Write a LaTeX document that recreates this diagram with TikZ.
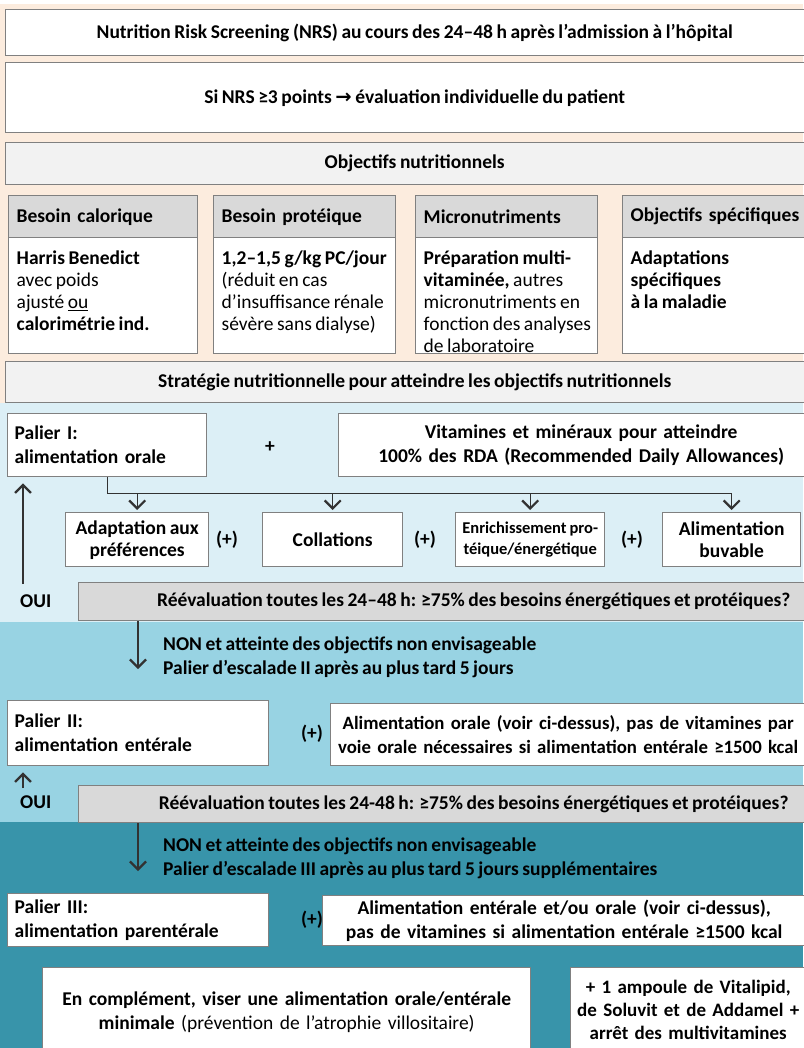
\documentclass[tikz,border=0pt]{standalone}
\usepackage{fontspec}
\setmainfont{Carlito}[WordSpace=0.8]
\newfontfamily\symfont{DejaVu Sans}
\usetikzlibrary{arrows.meta}

\definecolor{peche}{RGB}{252,236,222}
\definecolor{bleuclair}{RGB}{220,239,246}
\definecolor{bleumoyen}{RGB}{152,211,227}
\definecolor{bleufonce}{RGB}{56,148,170}
\definecolor{bord}{RGB}{128,128,128}
\definecolor{grisclair}{RGB}{242,242,242}
\definecolor{grismoyen}{RGB}{217,217,217}
\definecolor{trait}{RGB}{50,50,50}

\newcommand{\topcell}[2]{\parbox[c][92pt][t]{#1}{\begin{tabular}{@{}l@{}}#2\end{tabular}}}

\tikzset{
    box/.style={draw=bord, line width=1.4pt, fill=white, inner sep=0pt,
        anchor=north west, font=\bfseries\fontsize{19.5}{24}\selectfont},
    panel/.style={box, fill=grisclair},
    entete/.style={box, fill=grismoyen, minimum height=42pt, align=left},
    corps/.style={box, minimum height=116pt, font=\fontsize{19.5}{21.8}\selectfont},
    choix/.style={box, minimum height=54pt, align=center, font=\bfseries\fontsize{19.5}{22}\selectfont},
    lbl/.style={inner sep=0pt, font=\bfseries\fontsize{19.5}{24}\selectfont},
    conn/.style={draw=trait, line width=1.4pt},
    arr/.style={conn, -{Straight Barb[length=8pt,width=16pt,line width=2.2pt]}},
}

\begin{document}
\begin{tikzpicture}[x=1pt,y=-1pt]
        \useasboundingbox (0,0) rectangle (803,1048);
        %% bands
        \fill[peche] (0,4) rectangle (803,403);
        \fill[bleuclair] (0,403) rectangle (803,622);
        \fill[bleumoyen] (0,622) rectangle (803,822);
        \fill[bleufonce] (0,822) rectangle (803,1048);
        %% screening
        \node[box, minimum width=818pt, minimum height=46pt] (nrs) at (5,9)
            {Nutrition Risk Screening (NRS) au cours des 24–48 h après l’admission à l’hôpital};
        \node[box, minimum width=818pt, minimum height=70pt] (seuil) at (5,62)
            {Si NRS ≥3 points {\symfont\bfseries →} évaluation individuelle du patient};
        \node[panel, minimum width=818pt, minimum height=42pt] (objectifs) at (5,142) {Objectifs nutritionnels};
        %% objectives
        \node[entete, minimum width=189pt, text width=173pt] (calh) at (8,195) {Besoin calorique};
        \node[entete, minimum width=182pt, text width=166pt] (proh) at (213,195) {Besoin protéique};
        \node[entete, minimum width=182pt, text width=166pt] (mich) at (415,195) {Micronutriments};
        \node[entete, minimum width=200pt, text width=184pt] (spch) at (622,195) {Objectifs spécifiques};
        \node[corps, minimum width=189pt] (calb) at (8,237) {\topcell{173pt}{\textbf{Harris Benedict}\\ avec poids\\ ajusté \underline{ou}\\ \textbf{calorimétrie ind.}}};
        \node[corps, minimum width=182pt] (prob) at (213,237) {\topcell{166pt}{\textbf{1,2–1,5 g/kg PC/jour}\\ (réduit en cas\\ d’insuffisance rénale\\ sévère sans dialyse)}};
        \node[corps, minimum width=182pt] (micb) at (415,237) {\topcell{166pt}{\textbf{Préparation multi-}\\ \textbf{vitaminée,} autres\\ micronutriments en\\ fonction des analyses\\ de laboratoire}};
        \node[corps, minimum width=200pt] (spcb) at (622,237) {\topcell{184pt}{\textbf{Adaptations}\\ \textbf{spécifiques}\\ \textbf{à la maladie}}};
        \node[panel, minimum width=818pt, minimum height=41pt] (strategie) at (5,361)
            {Stratégie nutritionnelle pour atteindre les objectifs nutritionnels};
        %% palier I
        \node[box, minimum width=199pt, minimum height=63pt, text width=185pt, align=left] (palier1) at (7,413)
            {Palier I:\\ alimentation orale};
        \node[lbl] (plus) at (270,447) {+};
        \node[box, minimum width=485pt, minimum height=63pt, text width=470pt, align=center] (vitamines) at (338,413)
            {Vitamines et minéraux pour atteindre\\ 100\% des RDA (Recommended Daily Allowances)};
        \node[choix, minimum width=143pt] (adapt) at (65,512) {Adaptation aux\\ préférences};
        \node[choix, minimum width=140pt] (coll) at (262,512) {Collations};
        \node[choix, minimum width=149pt, font=\bfseries\fontsize{16.5}{21}\selectfont] (enrich) at (455,512)
            {Enrichissement pro-\\ téique/énergétique};
        \node[choix, minimum width=138pt] (buv) at (662,512) {Alimentation\\ buvable};
        \foreach \x/\n in {227/p1,425/p2,632/p3}
            \node[lbl] (\n) at (\x,540) {(+)};
        \path (palier1.south) ++(0,16) coordinate (split);
        \draw[conn] (palier1.south) -- (split) -- (split -| buv.north);
        \foreach \n in {adapt,coll,enrich,buv}
            \draw[arr] (split -| \n.north) -- ([yshift=2pt]\n.north);
        %% reevaluation I
        \node[lbl, anchor=west] (oui1) at (20,601) {OUI};
        \node[box, fill=grismoyen, minimum width=790pt, minimum height=38pt] (reeval1) at (78,582)
            {Réévaluation toutes les 24–48 h: ≥75\% des besoins énergétiques et protéiques?};
        \coordinate (retour1) at (23,584);
        \draw[arr] (retour1) -- ([yshift=-6pt]retour1 |- palier1.south);
        \node[lbl, anchor=west, align=left] (non1) at (163,657)
            {NON et atteinte des objectifs non envisageable\\ Palier d’escalade II après au plus tard 5 jours};
        \coordinate (descente1) at (138,669);
        \draw[arr] (reeval1.south -| descente1) -- (descente1);
        %% palier II
        \node[box, minimum width=261pt, minimum height=65pt, text width=247pt, align=left] (palier2) at (7,700)
            {Palier II:\\ alimentation entérale};
        \node[lbl] (p4) at (312,734) {(+)};
        \node[box, minimum width=475pt, minimum height=62pt, text width=470pt, align=center,
            font=\bfseries\fontsize{18.8}{24}\selectfont] (orale) at (330,703)
            {Alimentation orale (voir ci-dessus), pas de vitamines par\\ voie orale nécessaires si alimentation entérale ≥1500 kcal};
        %% reevaluation II
        \node[lbl, anchor=west] (oui2) at (20,802) {OUI};
        \node[box, fill=grismoyen, minimum width=790pt, minimum height=37pt] (reeval2) at (78,785)
            {Réévaluation toutes les 24-48 h: ≥75\% des besoins énergétiques et protéiques?};
        \coordinate (retour2) at (23,788);
        \draw[arr] (retour2) -- ([yshift=-6pt]retour2 |- palier2.south);
        \node[lbl, anchor=west, align=left] (non2) at (163,858)
            {NON et atteinte des objectifs non envisageable\\ Palier d’escalade III après au plus tard 5 jours supplémentaires};
        \coordinate (descente2) at (138,871);
        \draw[arr] (reeval2.south -| descente2) -- (descente2);
        %% palier III
        \node[box, minimum width=261pt, minimum height=53pt, text width=247pt, align=left] (palier3) at (7,893)
            {Palier III:\\ alimentation parentérale};
        \node[lbl] (p5) at (312,920) {(+)};
        \node[box, minimum width=483pt, minimum height=50pt, text width=475pt, align=center] (enterale) at (322,895)
            {Alimentation entérale et/ou orale (voir ci-dessus),\\ pas de vitamines si alimentation entérale ≥1500 kcal};
        \node[box, minimum width=488pt, minimum height=90pt, text width=480pt, align=center] (complement) at (42,967)
            {En complément, viser une alimentation orale/entérale\\ minimale {\mdseries(prévention de l’atrophie villositaire)}};
        \node[box, minimum width=235pt, minimum height=84pt, text width=230pt, align=center,
            font=\bfseries\fontsize{19}{23}\selectfont] (ampoule) at (570,967)
            {+ 1 ampoule de Vitalipid,\\ de Soluvit et de Addamel +\\ arrêt des multivitamines};
    \end{tikzpicture}
\end{document}
